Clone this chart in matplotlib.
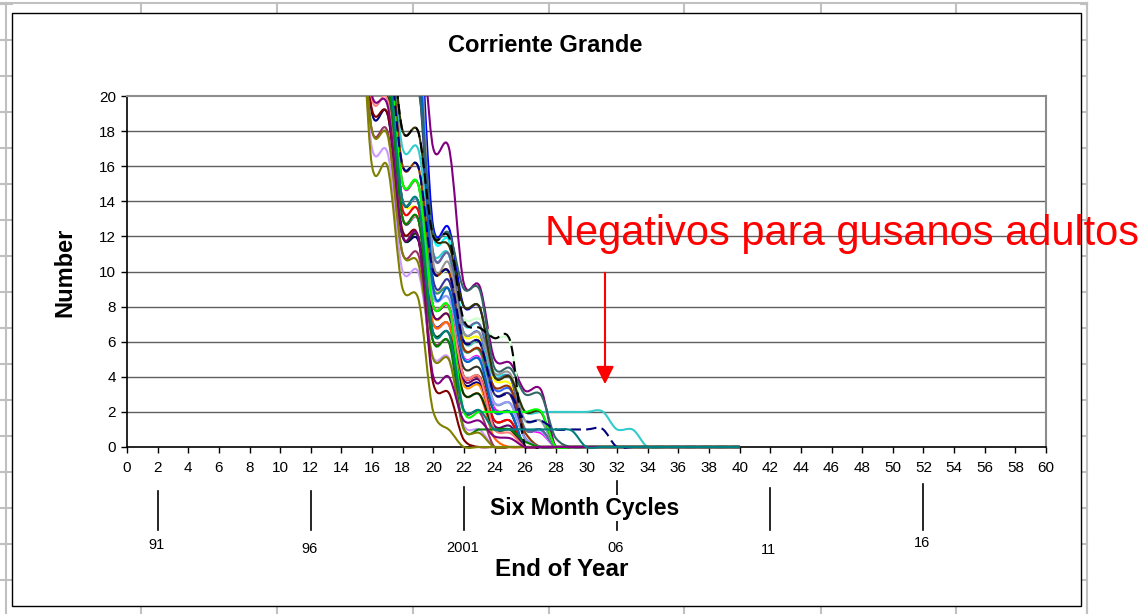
# Corriente Grande - simulated runs of adult worm numbers per six month cycle
import numpy as np
import matplotlib
matplotlib.use('Agg')
import matplotlib.pyplot as plt
from matplotlib.path import Path
from matplotlib.patches import PathPatch, Rectangle, FancyArrowPatch
from matplotlib.lines import Line2D

plt.rcParams['font.family'] = ['Liberation Sans', 'DejaVu Sans']

#%% data (one list per run, cycles 14, 15, 16, ...)
first_cycle = 14
end_cycle = 40   # every run is recorded up to cycle 40
cycle_ticks = list(range(0, 61, 2))
number_ticks = list(range(0, 21, 2))
year_cycles = [2, 12, 22, 32, 42, 52]
year_labels = ['91', '96', '2001', '06', '11', '16']

run_navy = [30, 29, 19, 19, 12, 11.8, 7, 7, 3.6, 3.6, 1, 1, 0, 0]
run_magenta = [32, 31, 25, 24, 15, 15, 9, 9, 5.1, 5.1, 2.2, 2, 1, 0.8, 0, 0]
run_yellow = [31, 30, 22, 21, 14, 13.5, 9, 9, 6.3, 6.2, 3.8, 3.6, 1, 1, 0, 0]
run_cyan = [33, 32, 28, 27, 24, 23, 12, 11.8, 7, 7, 4.2, 4, 1.5, 1.5, 0, 0]
run_purple = [34, 33, 30, 28, 27, 26, 17, 17.1, 9.3, 9.2, 5, 4.8, 3.2, 3.3, 0, 0]
run_maroon = [29, 28, 19.2, 19, 12.3, 12, 3.6, 3.1, 0.4, 0, 0]
run_blue = [33, 32, 27, 26, 26, 25, 12.5, 12.5, 8, 8, 4, 4, 1, 1, 0, 0]
run_sky = [31, 30, 21, 21, 13, 13, 8.5, 8.5, 5, 5, 2, 2, 0, 0]
run_paleturq = [30, 29, 22, 21, 13, 13, 7.5, 7.5, 3, 3, 1.1, 1.1, 0, 0]
run_palegreen = [31, 30, 23, 22, 16, 16, 10, 10, 7.3, 7.3, 6.2, 6, 1, 0, 0]
run_paleyellow = [30, 29, 22, 21, 14, 14, 8.5, 8.5, 4.5, 4.5, 1.5, 1.5, 0, 0]
run_paleblue = [30, 29, 21, 20.5, 13.5, 13.5, 8, 8, 5, 5, 2, 2, 1, 0.9, 0, 0]
run_rose = [29, 28, 20.5, 20, 13, 13, 7, 7, 4, 4, 1, 1, 0, 0]
run_lavender = [28, 27, 17, 16.8, 10, 10, 5.1, 5.1, 1.2, 1, 0, 0]
run_tan = [30, 29, 21, 21, 14, 14, 9, 9, 5, 5, 2, 2, 0, 0]
run_royal = [33, 32, 27, 26, 22, 21.5, 11, 11, 6.5, 6.5, 3.3, 3.3, 1, 1, 0, 0]
run_turq = [32, 31, 26, 25, 17, 17, 11, 11, 6, 6, 4, 4, 2, 2, 2, 2, 2, 2.05, 1, 1, 0, 0]
run_yellowgreen = [30, 29, 22, 21, 14, 14, 8, 8, 4, 4, 1, 1, 0, 0]
run_gold = [31, 30, 23, 22, 15, 15, 10, 10, 6, 6, 3, 3, 0.5, 0, 0]
run_orange = [30, 29, 22, 22, 14, 14, 7.5, 7.5, 3.5, 3.5, 1, 1, 0, 0]
run_redorange = [30, 29, 21, 21, 13, 13, 7, 7, 3, 3, 0.5, 0, 0]
run_slateblue = [33, 32, 28, 27, 23, 22, 11, 11, 7, 7, 4, 4, 1, 1, 0, 0]
run_gray = [33, 32, 28, 27, 25, 24, 10.5, 10.5, 6.5, 6.5, 4.2, 4.2, 1.5, 1.5, 0, 0]
run_darknavy = [30, 29, 22, 22, 14, 14, 8, 8, 4, 4, 1.5, 1.5, 0, 0]
run_seagreen = [31, 30, 23, 23, 15, 15, 9, 9, 5.5, 5.5, 2.5, 2.5, 0.5, 0, 0]
run_darkgreen = [30, 29, 20.5, 20, 12, 12, 6.5, 6.5, 3, 3, 1, 1, 0, 0]
run_darkolive = [32, 31, 26, 25, 18, 18, 12, 11.5, 8, 8, 4, 4, 2, 2, 0, 0]
run_brown = [31, 30, 24, 24, 16, 16, 10, 10, 5.6, 5.6, 3.4, 3.4, 0.8, 0, 0]
run_mauve = [28, 27, 18, 18, 11, 11, 6, 6, 2, 2, 0, 0]
run_indigo = [33, 32, 27, 26, 22, 21, 9.5, 9.5, 6, 6, 3, 3, 0.5, 0, 0]
run_charcoal = [30, 29, 22, 22, 14, 14, 8, 8, 4.5, 4.5, 2, 2, 0, 0]
run_red = [30, 29, 22, 21, 13.5, 13.5, 8, 8, 4, 4, 1.5, 1.5, 0, 0]
run_periwinkle = [30, 29, 21, 21, 14, 14, 8.5, 8.5, 5, 5, 2.5, 2.5, 0.5, 0, 0]
run_blue2 = [33, 32, 27, 26, 24, 23, 9, 9, 5, 5, 2, 2, 0, 0]
run_darkpurple = [30, 29, 21, 21, 13, 13, 7.5, 7.5, 3.8, 3.8, 1.2, 1.2, 0, 0]
run_salmon = [30, 29, 19.8, 19.8, 13, 13, 8, 8, 4, 4, 1, 0.8, 0, 0]
run_slate = [33, 32, 28, 27, 21, 20.5, 12.2, 12.2, 9, 9, 4.5, 4.5, 3, 3, 0.5, 0, 0]
run_green = [31, 30, 24, 23, 15, 15, 8, 8, 2, 2, 2, 2, 2, 2.05, 0, 0]
run_darkgreen2 = [30, 29, 21, 21, 13, 13, 6, 6, 1, 1, 1, 1, 0.3, 0, 0]
run_black = [32, 31, 26, 25, 18, 18, 12, 12, 7.2, 6.8, 6.2, 6.1, 0, 0]
run_navydash = [31, 30, 24, 23, 16, 16, 10, 10, 6, 6, 3, 3, 1.5, 1.5, 1, 1, 1, 1.05, 0, 0]
run_olive = [30, 29, 16, 16, 9, 8.5, 2, 1, 0, 0]
run_olive2 = [29, 28, 18, 17.8, 11, 10.5, 5, 5, 1, 0.8, 0, 0]
run_purple2 = [29, 28, 20, 19.5, 12, 12, 4, 4, 1.5, 1.5, 0.6, 0.5, 0, 0]
run_teal = [30, 29, 22, 22, 14, 14, 6.5, 6.5, 2.1, 2.1, 1, 1, 1, 1, 1, 0.95, 0, 0]

# drawing order (last one on top), colour, dashed or not
runs = [
    (run_navy, '#000080', False), (run_magenta, '#FF00FF', False),
    (run_yellow, '#FFFF00', False), (run_cyan, '#00FFFF', False),
    (run_purple, '#800080', False), (run_maroon, '#800000', False),
    (run_blue, '#0000FF', False), (run_sky, '#00CCFF', False),
    (run_paleturq, '#CCFFFF', False), (run_palegreen, '#CCFFCC', False),
    (run_paleyellow, '#FFFF99', False), (run_paleblue, '#99CCFF', False),
    (run_rose, '#FF99CC', False), (run_lavender, '#CC99FF', False),
    (run_tan, '#FFCC99', False), (run_royal, '#3366FF', False),
    (run_turq, '#33CCCC', False), (run_yellowgreen, '#99CC00', False),
    (run_gold, '#FFCC00', False), (run_orange, '#FF9900', False),
    (run_redorange, '#FF6600', False), (run_slateblue, '#666699', False),
    (run_gray, '#969696', False), (run_darknavy, '#003366', False),
    (run_seagreen, '#339966', False), (run_darkgreen, '#003300', False),
    (run_darkolive, '#333300', False), (run_brown, '#993300', False),
    (run_mauve, '#993366', False), (run_indigo, '#333399', False),
    (run_charcoal, '#333333', False), (run_red, '#FF0000', False),
    (run_periwinkle, '#9999FF', False), (run_blue2, '#0066CC', False),
    (run_darkpurple, '#660066', False), (run_salmon, '#FF8080', False),
    (run_slate, '#336666', False), (run_green, '#00FF00', False),
    (run_darkgreen2, '#008000', False), (run_black, '#000000', True),
    (run_navydash, '#000080', True), (run_olive, '#808000', False),
    (run_olive2, '#808000', False), (run_purple2, '#800080', False),
    (run_teal, '#008080', False),
]


def smooth_path(xs, ys, tension=0.75):
    # excel style smoothed line: cubic bezier, softened catmull-rom slopes
    xs = np.asarray(xs, float)
    ys = np.asarray(ys, float)
    m = np.zeros(len(xs))
    m[1:-1] = (ys[2:] - ys[:-2]) / (xs[2:] - xs[:-2])
    m[0] = (ys[1] - ys[0]) / (xs[1] - xs[0])
    m[-1] = (ys[-1] - ys[-2]) / (xs[-1] - xs[-2])
    m = m * tension
    verts = [(xs[0], ys[0])]
    codes = [Path.MOVETO]
    for i in range(len(xs) - 1):
        h = xs[i + 1] - xs[i]
        verts += [(xs[i] + h / 3, ys[i] + m[i] * h / 3),
                  (xs[i + 1] - h / 3, ys[i + 1] - m[i + 1] * h / 3),
                  (xs[i + 1], ys[i + 1])]
        codes += [Path.CURVE4] * 3
    return Path(verts, codes)


W, H = 1143, 614
def fx(x):
    return x / W
def fy(y):
    return 1 - y / H

fig = plt.figure(figsize=(W / 100, H / 100), dpi=100)
fig.patch.set_facecolor('white')

# spreadsheet cells behind the chart
grey = '#C0C0C0'
col_x = [141, 277, 413, 549, 684, 821, 956, 1087]
row_y = [4 + 36 * k for k in range(17)]
def bg_line(xa, ya):
    fig.add_artist(Line2D(xa, ya, color=grey, lw=1.5, zorder=-10))

bg_line([0, fx(1087)], [fy(3), fy(3)])
bg_line([fx(6), fx(6)], [0, fy(3)])
bg_line([fx(1087), fx(1087)], [0, fy(3)])
for cx in col_x:
    bg_line([fx(cx), fx(cx)], [fy(3), fy(13)])
    bg_line([fx(cx), fx(cx)], [fy(606), 0])
for ry in row_y:
    bg_line([0, fx(12)], [fy(ry), fy(ry)])
    bg_line([fx(1081), fx(1087)], [fy(ry), fy(ry)])

# chart area
fig.add_artist(Rectangle((fx(12), fy(606)), fx(1081 - 12), (606 - 13) / H,
                         facecolor='white', edgecolor='black', lw=1, zorder=-5))

ax = fig.add_axes([fx(127), fy(447), fx(1046 - 127), (447 - 96) / H])
ax.set_facecolor('white')

for yv in number_ticks[1:-1]:
    ax.axhline(yv, color='#5f5f5f', lw=1, zorder=1)

clip = Rectangle((0, -0.006), 1, 1.006, transform=ax.transAxes)
for vals, col, dashed in runs:
    xs = list(range(first_cycle, first_cycle + len(vals))) + [end_cycle]
    ys = list(vals) + [0]
    patch = PathPatch(smooth_path(xs, ys), fill=False, edgecolor=col, lw=1.5,
                      linestyle=(0, (5, 2.5)) if dashed else '-', zorder=3)
    ax.add_patch(patch)
    patch.set_clip_path(clip)

ax.set_xlim(0, 60)
ax.set_ylim(0, 20)
ax.set_xticks(cycle_ticks)
ax.set_yticks(number_ticks)
ax.tick_params(axis='x', direction='out', length=4, width=1, labelsize=11, pad=6)
ax.tick_params(axis='y', direction='out', length=4, width=1, labelsize=11, pad=4)
for s in ['left', 'bottom']:
    ax.spines[s].set_color('black')
    ax.spines[s].set_linewidth(1.2)
for s in ['top', 'right']:
    ax.spines[s].set_color('#8c8c8c')
    ax.spines[s].set_linewidth(1.5)

# titles
fig.text(fx(545), fy(46), 'Corriente Grande', ha='center', va='center',
         fontsize=17, fontweight='bold')
fig.text(fx(65), fy(272), 'Number', ha='center', va='center', rotation=90,
         fontsize=17, fontweight='bold')
fig.text(fx(585), fy(508), 'Six Month Cycles', ha='center', va='center',
         fontsize=16.5, fontweight='bold', zorder=5,
         bbox=dict(facecolor='white', edgecolor='none', pad=1))
fig.text(fx(562), fy(570), 'End of Year', ha='center', va='center',
         fontsize=17.5, fontweight='bold')

# end of year marks below the cycle axis
mark_top = [491, 491, 487, 481, 488, 484]
label_y = [545, 549, 548, 548, 550, 543]
trans = ax.get_xaxis_transform()
for c, lab, top, ly in zip(year_cycles, year_labels, mark_top, label_y):
    ax.plot([c, c], [(447 - top) / 351, (447 - 530) / 351], color='black',
            lw=1.2, transform=trans, clip_on=False, zorder=2)
    ax.text(c - 0.1, (447 - ly) / 351, lab, transform=trans, ha='center',
            va='center', fontsize=10.5)

# annotation
fig.text(fx(545), fy(245), 'Negativos para gusanos adultos', color='#FF0000',
         fontsize=30, ha='left', va='baseline')
fig.add_artist(FancyArrowPatch(
    (fx(605), fy(270)), (fx(605), fy(387)), transform=fig.transFigure,
    arrowstyle='-|>,head_length=0.6,head_width=0.3', mutation_scale=18,
    color='#FF0000', lw=1.5))

fig.savefig('out.png', dpi=100)
